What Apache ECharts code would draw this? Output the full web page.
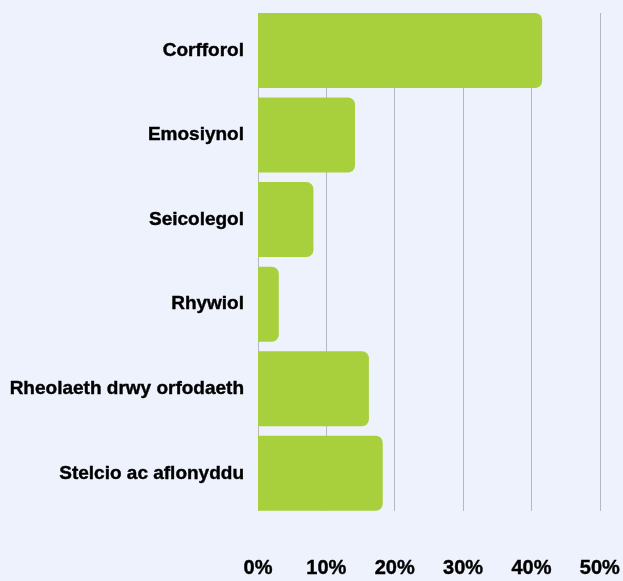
<!DOCTYPE html>
<html><head><meta charset="utf-8">
<script src="https://cdn.jsdelivr.net/npm/echarts@6/dist/echarts.min.js"></script>
<style>html,body{margin:0;padding:0;background:#eef2fd}#c{width:623px;height:581px}</style>
</head><body><div id="c"></div>
<script>
const categories = ["Corfforol","Emosiynol","Seicolegol","Rhywiol","Rheolaeth drwy orfodaeth","Stelcio ac aflonyddu"];
const values = [41, 14, 8, 3, 16, 18];
const xTicks = [0,10,20,30,40,50];
const font = 'Liberation Sans, Arial, sans-serif';
const chart = echarts.init(document.getElementById('c'));
chart.setOption({
  backgroundColor:'#eef2fd',
  animation:false,
  grid:[
    {left:258,right:18.5,top:13,bottom:70},
    {left:258,right:18.5,top:8.2,bottom:65.4}
  ],
  xAxis:[
    {gridIndex:0,type:'value',min:xTicks[0],max:xTicks[xTicks.length-1],interval:10,
    axisLine:{show:false},axisTick:{show:false},
    splitLine:{show:true,lineStyle:{color:'#b4b7c4',width:1}},
    axisLabel:{margin:47,color:'#000',fontWeight:'bold',fontSize:20,fontFamily:font,
      textBorderColor:'#000',textBorderWidth:0.4,formatter:v=>v+'%'}},
    {gridIndex:1,type:'value',min:xTicks[0],max:xTicks[xTicks.length-1],interval:10,show:false,splitLine:{show:false}}
  ],
  yAxis:[
    {gridIndex:0,type:'category',data:categories,show:false},
    {gridIndex:1,type:'category',data:categories,inverse:true,
    axisLine:{show:false},axisTick:{show:false},
    axisLabel:{margin:14,color:'#000',fontWeight:'bold',fontSize:19,fontFamily:font,
      textBorderColor:'#000',textBorderWidth:0.4}}
  ],
  series:[{type:'bar',xAxisIndex:1,yAxisIndex:1,data:values,barCategoryGap:'11.3%',
    itemStyle:{color:'#a8cf3c',borderRadius:[0,7,7,0]}}]
});
</script></body></html>
